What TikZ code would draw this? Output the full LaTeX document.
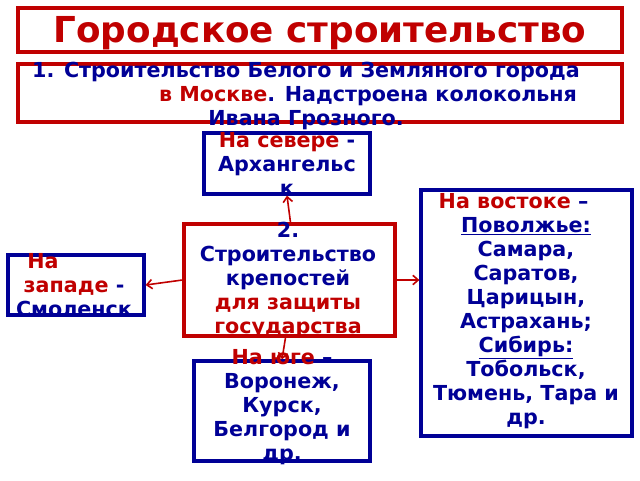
\documentclass[tikz,border=0pt]{standalone}
\usepackage{fontspec}
\setmainfont{DejaVu Sans}
\usepackage{xcolor}
\usetikzlibrary{arrows.meta,positioning}
\definecolor{tred}{RGB}{192,0,0}
\definecolor{tblue}{RGB}{0,0,150}
\newcommand{\rt}[1]{\textcolor{tred}{#1}}

\begin{document}
\begin{tikzpicture}[x=0.75pt,y=-0.75pt]

\tikzset{
	redbox/.style={
		draw=tred,
		rectangle,
		line width=2.4pt,
		inner sep=0pt},
	bluebox/.style={
		draw=tblue,
		rectangle,
		line width=2.4pt,
		inner sep=0pt},
	txt/.style={
		align=center,
		text=tblue,
		font=\bfseries\fontsize{15.5}{18}\selectfont,
		inner sep=0pt},
	arr/.style={
		-{Straight Barb[length=4pt,width=7pt]},
		draw=tred,
		line width=1.2pt}
}

\useasboundingbox (0,0) rectangle (640,480);

\node[redbox,minimum width=604*0.75pt,minimum height=44*0.75pt] (title) at (320,30)
{};
\node[font=\bfseries\fontsize{26.8}{30}\selectfont,text=tred] (titletext) at (320,33) {Городское строительство};

\node[redbox,minimum width=604*0.75pt,minimum height=58*0.75pt] (moscow) at (320,93) {};
\node[txt] at (306,96)
{1. Строительство Белого и Земляного города\\
\hspace*{6em}\rt{в Москве}. Надстроена колокольня\\Ивана Грозного.};

\node[redbox,minimum width=211*0.75pt,minimum height=112*0.75pt] (fort) at (289.5,280) {};
\node[txt] at (288,280)
{2.\\Строительство\\крепостей\hspace*{3.2em}\\\rt{для защиты}\\\rt{государства}};

\node[bluebox,minimum width=166*0.75pt,minimum height=61*0.75pt] (north) at (287,163.5) {};
\node[txt] at (287,164) {\rt{На севере} -\\Архангельс\\к};

\node[bluebox,minimum width=136*0.75pt,minimum height=60*0.75pt] (west) at (76,285) {};
\node[txt] at (74,285) {\rt{На}\hspace*{3em}\\\rt{западе} -\\Смоленск};

\node[bluebox,minimum width=211*0.75pt,minimum height=246*0.75pt] (east) at (526.5,313) {};
\node[txt] at (526,311)
{\rt{На востоке} –\hspace*{1.2em}\\\underline{Поволжье:}\hspace*{2.5em}\\Самара,\\Саратов,\\Царицын,\\Астрахань;\\\underline{Сибирь:}\\Тобольск,\\Тюмень, Тара и\\др.};

\node[bluebox,minimum width=176*0.75pt,minimum height=100*0.75pt] (south) at (282,411) {};
\node[txt] at (282,407) {\rt{На юге} –\\Воронеж,\\Курск,\\Белгород и\\др.};

\draw[arr] (fort.north) ++(1,0) -- (north.south);
\draw[arr] (fort.west) -- (west.east);
\draw[arr] (fort.east) -- (east.west |- fort.east);
\draw[arr] (fort.south) ++(-4,0) -- (south.north);

\end{tikzpicture}
\end{document}
